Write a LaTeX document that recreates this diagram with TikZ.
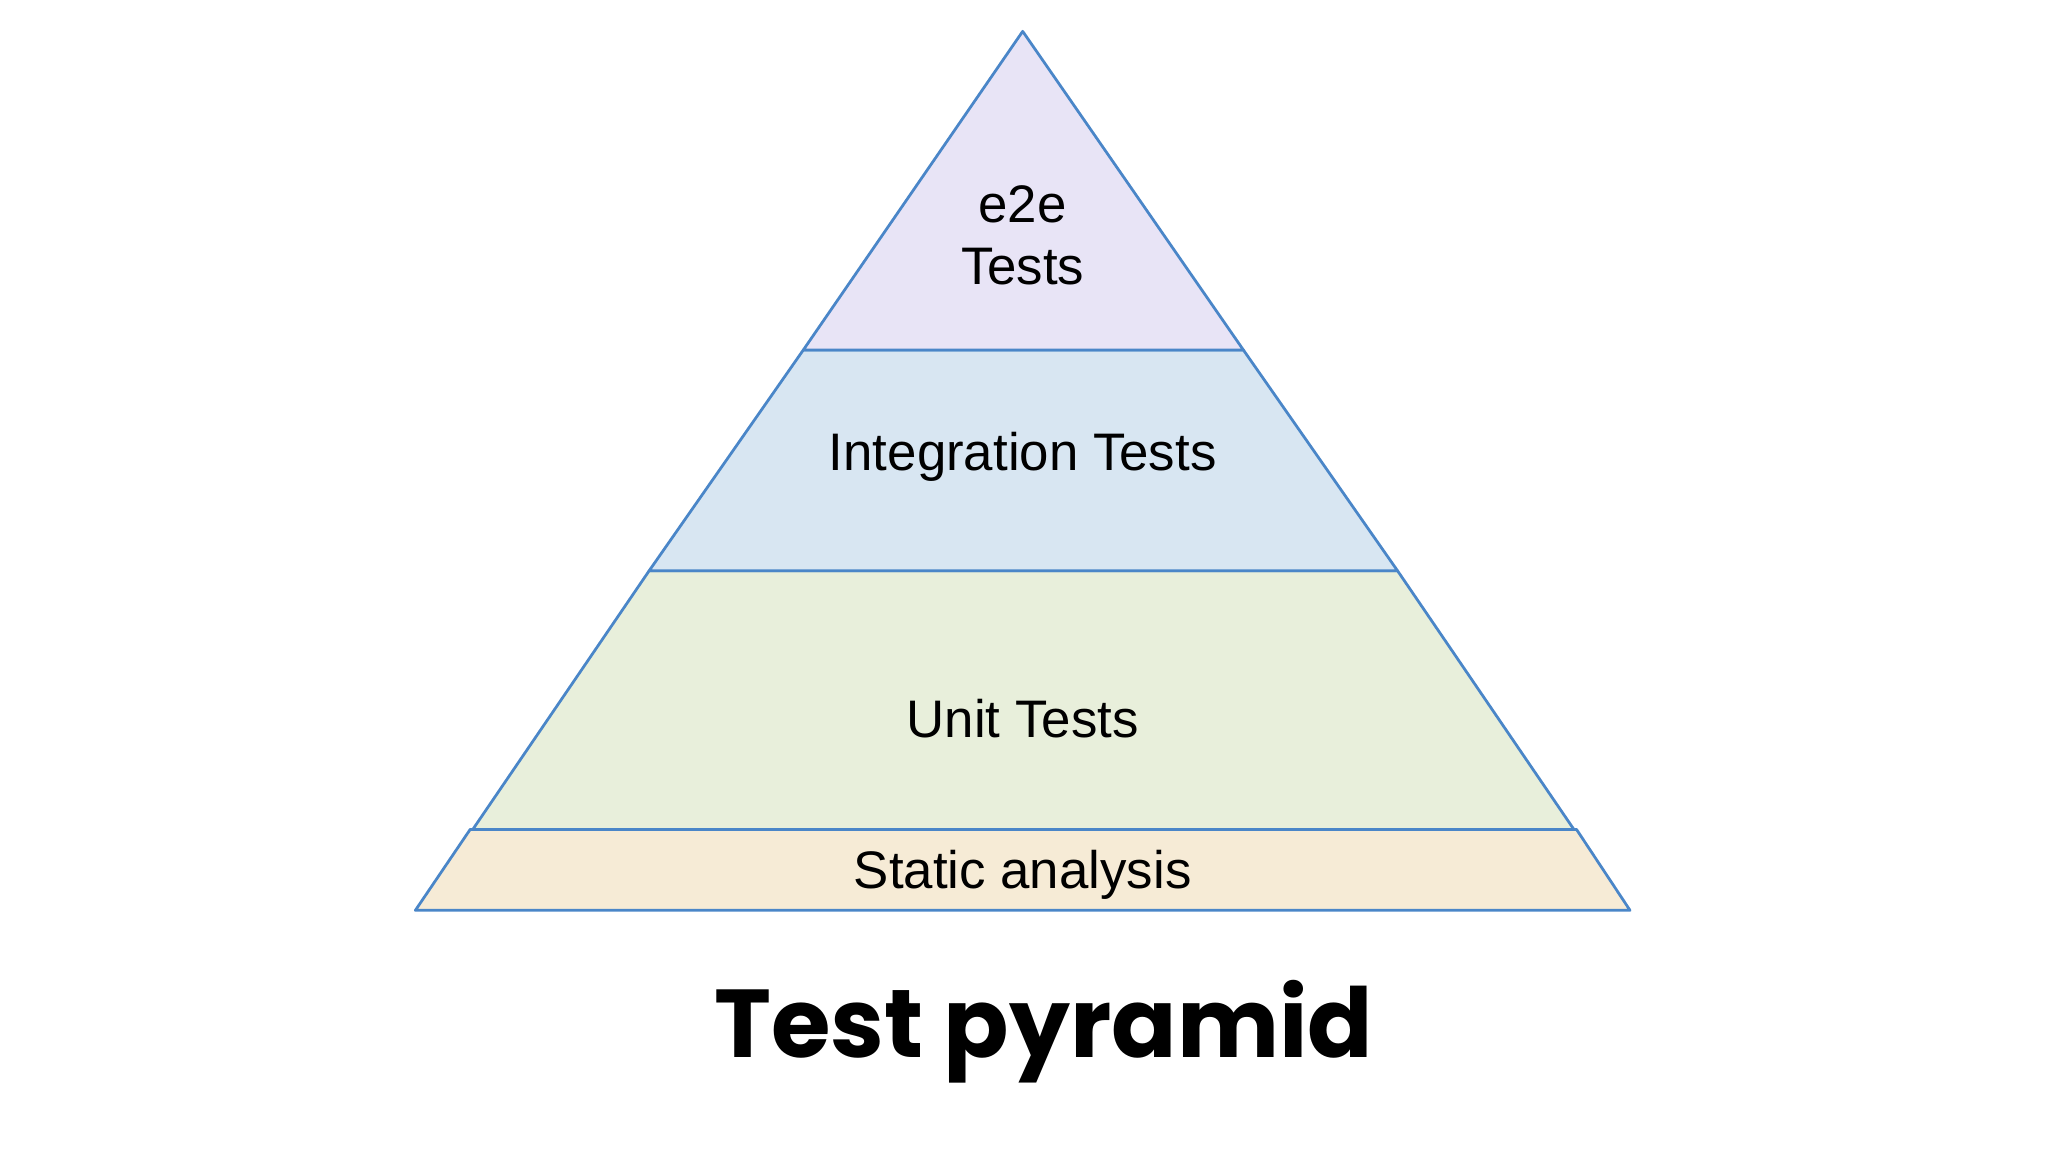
\documentclass[tikz,border=0pt]{standalone}
\usepackage{fontspec}
\setmainfont{Liberation Sans}
\newfontfamily\titlefont{Poppins}
\definecolor{edge}{HTML}{4A86C8}
\definecolor{cE}{HTML}{E8E4F6}
\definecolor{cI}{HTML}{D8E6F2}
\definecolor{cU}{HTML}{E8EFDB}
\definecolor{cS}{HTML}{F6EBD6}
\tikzset{layer/.style={draw=edge,line width=0.6pt,line join=round},
lbl/.style={font=\fontsize{11.5}{13.5}\selectfont,align=center,text=black}}
\begin{document}
\begin{tikzpicture}[x=0.01cm,y=-0.01cm]
\useasboundingbox (0,0) rectangle (1568,882);
\fill[white] (0,0) rectangle (1568,882);
\draw[layer,fill=cS] (318,697) -- (360,635) -- (1207,635) -- (1248,697) -- cycle;
\draw[layer,fill=cU] (362,635) -- (497,437) -- (1070,437) -- (1205,635) -- cycle;
\draw[layer,fill=cI] (497,437) -- (615,268) -- (952,268) -- (1070,437) -- cycle;
\draw[layer,fill=cE] (615,268) -- (783,24) -- (952,268) -- cycle;
\node[lbl] (e2e) at (783,180) {e2e\\Tests};
\node[lbl] (int) at (783,350) {Integration Tests};
\node[lbl] (unit) at (783,550) {Unit Tests};
\node[lbl] (stat) at (783,670) {Static analysis};
\node[font=\titlefont\bfseries\fontsize{21}{24}\selectfont] (title) at (799,790) {Test pyramid};
\end{tikzpicture}
\end{document}
